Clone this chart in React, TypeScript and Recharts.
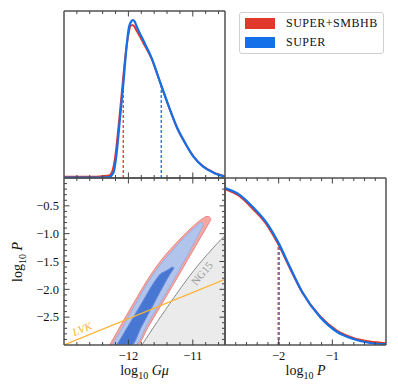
import React from 'react';
import { ComposedChart, Line, Area, XAxis, YAxis, ReferenceLine, ReferenceDot } from 'recharts';

// ---------- data ----------
// Top-left: 1D marginal of log10 Gmu
const gmuBlueX = [-13.0, -12.5, -12.3, -12.234, -12.18, -12.13, -12.08, -12.026, -11.99, -11.95, -11.93, -11.9, -11.87, -11.77, -11.64, -11.51, -11.38, -11.25, -11.12, -10.99, -10.84, -10.68, -10.5];
const gmuBlueY = [0.003, 0.003, 0.006, 0.03, 0.157, 0.36, 0.557, 0.796, 0.906, 0.94, 0.946, 0.935, 0.906, 0.826, 0.719, 0.577, 0.437, 0.307, 0.21, 0.128, 0.068, 0.032, 0.008];
const gmuRedX = [-13.0, -12.5, -12.3, -12.25, -12.2, -12.15, -12.1, -12.05, -12.0, -11.96, -11.93, -11.87, -11.77, -11.64, -11.51, -11.38, -11.25, -11.12, -10.99, -10.84, -10.68, -10.5];
const gmuRedY = [0.008, 0.008, 0.015, 0.04, 0.14, 0.32, 0.52, 0.72, 0.86, 0.915, 0.915, 0.88, 0.81, 0.715, 0.575, 0.435, 0.305, 0.21, 0.13, 0.07, 0.034, 0.01];
const gmuRedMark = [-12.08, 0.58];
const gmuBlueMark = [-11.49, 0.555];

// Bottom-right: 1D marginal of log10 P
const pBlueX = [-3.0, -2.72, -2.48, -2.22, -2.0, -1.79, -1.55, -1.23, -0.91, -0.61, -0.3, 0.0];
const pBlueY = [0.94, 0.898, 0.826, 0.73, 0.61, 0.467, 0.311, 0.168, 0.078, 0.036, 0.012, 0.005];
const pRedX = [-3.0, -2.72, -2.48, -2.22, -2.0, -1.79, -1.55, -1.23, -0.91, -0.61, -0.3, 0.0];
const pRedY = [0.933, 0.89, 0.815, 0.72, 0.6, 0.46, 0.31, 0.172, 0.085, 0.042, 0.02, 0.01];
const pRedMark = [-2.01, 0.6];
const pBlueMark = [-1.99, 0.6];

// Bottom-left: 2D contours (x = log10 Gmu, [lo, hi] = log10 P band)
const red2X = [-12.29, -12.1, -11.9, -11.862, -11.7, -11.5, -11.3, -11.1, -10.95, -10.85, -10.78, -10.74, -10.72];
const red2Lo = [-3.0, -3.0, -3.0, -3.0, -2.69, -2.3, -1.91, -1.51, -1.21, -1.01, -0.87, -0.79, -0.745];
const red2Hi = [-3.0, -2.61, -2.21, -2.135, -1.82, -1.49, -1.22, -0.98, -0.82, -0.73, -0.69, -0.7, -0.73];

const blue2X = [-12.25, -12.1, -11.897, -11.7, -11.5, -11.3, -11.1, -10.95, -10.9, -10.86, -10.84];
const blue2Lo = [-3.0, -3.0, -3.0, -2.62, -2.23, -1.84, -1.42, -1.1, -0.99, -0.9, -0.83];
const blue2Hi = [-3.0, -2.7, -2.28, -1.88, -1.55, -1.28, -1.03, -0.87, -0.82, -0.8, -0.82];

const blue1X = [-12.18, -12.0, -11.949, -11.8, -11.6, -11.5, -11.42, -11.36, -11.32, -11.29];
const blue1Lo = [-3.0, -3.0, -3.0, -2.68, -2.25, -2.03, -1.86, -1.74, -1.67, -1.615];
const blue1Hi = [-3.0, -2.65, -2.55, -2.26, -1.87, -1.72, -1.67, -1.63, -1.6, -1.61];

const ng15X = [-11.79, -11.55, -11.3, -11.05, -10.78, -10.5];
const ng15Y = [-3.0, -2.58, -2.16, -1.76, -1.38, -1.03];
const lvkX = [-13.0, -10.5];
const lvkY = [-3.0, -1.82];
const ng15LabelPos = [-10.86, -1.71];
const lvkLabelPos = [-12.72, -2.71];

// ticks
const gmuDomain = [-13, -10.5];
const pDomain = [-3, 0];
const unitDomain = [0, 1];
const gmuMajor = [-12, -11];
const gmuTicks = [-12.8, -12.6, -12.4, -12.2, -12, -11.8, -11.6, -11.4, -11.2, -11, -10.8, -10.6];
const pMajorY = [-2.5, -2, -1.5, -1, -0.5];
const pTicksY = [-2.9, -2.8, -2.7, -2.6, -2.5, -2.4, -2.3, -2.2, -2.1, -2, -1.9, -1.8, -1.7, -1.6, -1.5, -1.4, -1.3, -1.2, -1.1, -1, -0.9, -0.8, -0.7, -0.6, -0.5, -0.4, -0.3, -0.2, -0.1];
const pMajorX = [-2, -1];
const pTicksX = [-2.8, -2.6, -2.4, -2.2, -2, -1.8, -1.6, -1.4, -1.2, -1, -0.8, -0.6, -0.4, -0.2];
const hiddenTicks = [0.5];

const seriesNames = ['SUPER+SMBHB', 'SUPER'];

// ---------- style ----------
const RED = '#E0392B';
const BLUE = '#1370E8';
const FRAME = '#505050';
const TICK = '#404040';
const FONT = "'Liberation Serif', 'DejaVu Serif', serif";
const ORANGE = '#FDB334';

const zip = (xs: number[], ys: number[]) => xs.map((x, i) => ({ x, y: ys[i] }));
const zipRange = (xs: number[], lo: number[], hi: number[]) => xs.map((x, i) => ({ x, r: [lo[i], hi[i]] }));

const fmtInt = (v: number) => (v < 0 ? '\u2212' + Math.abs(v) : String(v));
const fmtDec = (v: number) => (v < 0 ? '\u2212' + Math.abs(v).toFixed(1) : v.toFixed(1));

const noTick = () => <g />;

function makeTick(side: string, majors: number[], withLabels: boolean, fmt?: (v: number) => string) {
  return (props: any) => {
    const { x, y, payload } = props;
    const v = Number(payload.value);
    const major = majors.some((m) => Math.abs(m - v) < 1e-6);
    const len = major ? 5.5 : 3;
    let x2 = x;
    let y2 = y;
    if (side === 'bottom') y2 = y - len;
    else if (side === 'top') y2 = y + len;
    else if (side === 'left') x2 = x + len;
    else x2 = x - len;
    let label: React.ReactNode = null;
    if (withLabels && major && fmt) {
      if (side === 'bottom') {
        label = (
          <text x={x} y={y + 15} textAnchor="middle" fontSize={12.5} fontFamily={FONT} fill="#111">
            {fmt(v)}
          </text>
        );
      } else {
        label = (
          <text x={x - 5} y={y + 4.3} textAnchor="end" fontSize={12.5} fontFamily={FONT} fill="#111">
            {fmt(v)}
          </text>
        );
      }
    }
    return (
      <g>
        <line x1={x} y1={y} x2={x2} y2={y2} stroke={TICK} strokeWidth={1} />
        {label}
      </g>
    );
  };
}

const frame = { stroke: FRAME, strokeWidth: 1.5 };
const W = 398;
const H = 389;

const abs: React.CSSProperties = { position: 'absolute', left: 0, top: 0 };

function axisSet(p: {
  xDomain: number[];
  yDomain: number[];
  xTicks: number[];
  xMajor: number[];
  xLabels: boolean;
  xFmt?: (v: number) => string;
  yTicks: number[];
  yMajor: number[];
  yLabels: boolean;
  yFmt?: (v: number) => string;
}) {
  const hasX = p.xTicks.length > 0;
  const hasY = p.yTicks.length > 0;
  const common = { type: 'number' as const, allowDataOverflow: true, interval: 0, tickSize: 0, tickMargin: 0, tickLine: false, axisLine: frame };
  return [
    <XAxis
      key="xb"
      xAxisId="b"
      dataKey="x"
      {...common}
      domain={p.xDomain}
      ticks={hasX ? p.xTicks : hiddenTicks}
      height={1}
      tick={hasX ? makeTick('bottom', p.xMajor, p.xLabels, p.xFmt) : noTick}
    />,
    <XAxis
      key="xt"
      xAxisId="t"
      orientation="top"
      dataKey="x"
      {...common}
      domain={p.xDomain}
      ticks={hasX ? p.xTicks : hiddenTicks}
      height={1}
      tick={hasX ? makeTick('top', p.xMajor, false) : noTick}
    />,
    <YAxis
      key="yl"
      yAxisId="l"
      {...common}
      domain={p.yDomain}
      ticks={hasY ? p.yTicks : hiddenTicks}
      width={1}
      tick={hasY ? makeTick('left', p.yMajor, p.yLabels, p.yFmt) : noTick}
    />,
    <YAxis
      key="yr"
      yAxisId="r"
      orientation="right"
      {...common}
      domain={p.yDomain}
      ticks={hasY ? p.yTicks : hiddenTicks}
      width={1}
      tick={hasY ? makeTick('right', p.yMajor, false) : noTick}
    />,
  ];
}

const ax = { xAxisId: 'b', yAxisId: 'l' } as const;

// plot rectangles: margins reduced by 1 for the 1px axis boxes
function TopLeft() {
  return (
    <div style={abs}>
      <ComposedChart width={W} height={H} margin={{ top: 10, left: 63, right: 172, bottom: 210 }}>
        {axisSet({
          xDomain: gmuDomain,
          yDomain: unitDomain,
          xTicks: gmuTicks,
          xMajor: gmuMajor,
          xLabels: false,
          yTicks: [],
          yMajor: [],
          yLabels: false,
        })}
        <ReferenceLine
          {...ax}
          segment={[{ x: gmuRedMark[0], y: 0 }, { x: gmuRedMark[0], y: gmuRedMark[1] }]}
          stroke={RED}
          strokeWidth={1.3}
          strokeDasharray="3 2"
        />
        <ReferenceLine
          {...ax}
          segment={[{ x: gmuBlueMark[0], y: 0 }, { x: gmuBlueMark[0], y: gmuBlueMark[1] }]}
          stroke={BLUE}
          strokeWidth={1.3}
          strokeDasharray="3 2"
        />
        <Line {...ax} data={zip(gmuRedX, gmuRedY)} dataKey="y" name={seriesNames[0]} type="monotone" stroke={RED} strokeWidth={2} dot={false} isAnimationActive={false} />
        <Line {...ax} data={zip(gmuBlueX, gmuBlueY)} dataKey="y" name={seriesNames[1]} type="monotone" stroke={BLUE} strokeWidth={2.2} dot={false} isAnimationActive={false} />
      </ComposedChart>
    </div>
  );
}

function BottomRight() {
  return (
    <div style={abs}>
      <ComposedChart width={W} height={H} margin={{ top: 177, left: 224, right: 11, bottom: 43 }}>
        {axisSet({
          xDomain: pDomain,
          yDomain: unitDomain,
          xTicks: pTicksX,
          xMajor: pMajorX,
          xLabels: true,
          xFmt: fmtInt,
          yTicks: [],
          yMajor: [],
          yLabels: false,
        })}
        <ReferenceLine
          {...ax}
          segment={[{ x: pRedMark[0], y: 0 }, { x: pRedMark[0], y: pRedMark[1] }]}
          stroke={RED}
          strokeWidth={1.2}
          strokeDasharray="3 2"
        />
        <ReferenceLine
          {...ax}
          segment={[{ x: pBlueMark[0], y: 0 }, { x: pBlueMark[0], y: pBlueMark[1] }]}
          stroke={BLUE}
          strokeWidth={1.2}
          strokeDasharray="3 2"
        />
        <Line {...ax} data={zip(pRedX, pRedY)} dataKey="y" type="monotone" stroke={RED} strokeWidth={2.2} dot={false} isAnimationActive={false} />
        <Line {...ax} data={zip(pBlueX, pBlueY)} dataKey="y" type="monotone" stroke={BLUE} strokeWidth={2.2} dot={false} isAnimationActive={false} />
      </ComposedChart>
    </div>
  );
}

function BottomLeft() {
  return (
    <div style={abs}>
      <ComposedChart width={W} height={H} margin={{ top: 177, left: 63, right: 172, bottom: 43 }}>
        {axisSet({
          xDomain: gmuDomain,
          yDomain: pDomain,
          xTicks: gmuTicks,
          xMajor: gmuMajor,
          xLabels: true,
          xFmt: fmtInt,
          yTicks: pTicksY,
          yMajor: pMajorY,
          yLabels: true,
          yFmt: fmtDec,
        })}
        <Area {...ax} data={zip(ng15X, ng15Y)} dataKey="y" baseValue={-3} type="monotone" fill="#EBEBEB" fillOpacity={1} stroke="#8A8A8A" strokeWidth={1} dot={false} activeDot={false} isAnimationActive={false} />
        <Area {...ax} data={zipRange(red2X, red2Lo, red2Hi)} dataKey="r" type="monotone" fill="#F4A7A3" fillOpacity={1} stroke="#EA8782" strokeWidth={1} dot={false} activeDot={false} isAnimationActive={false} />
        <Area {...ax} data={zipRange(blue2X, blue2Lo, blue2Hi)} dataKey="r" type="monotone" fill="#B1C5EC" fillOpacity={1} stroke="#97AFE6" strokeWidth={1} dot={false} activeDot={false} isAnimationActive={false} />
        <Area {...ax} data={zipRange(blue1X, blue1Lo, blue1Hi)} dataKey="r" type="monotone" fill="#4777D2" fillOpacity={1} stroke="#6F8DDC" strokeWidth={1} dot={false} activeDot={false} isAnimationActive={false} />
        <Line {...ax} data={zip(lvkX, lvkY)} dataKey="y" type="linear" stroke={ORANGE} strokeWidth={1.2} dot={false} activeDot={false} isAnimationActive={false} />
        <ReferenceDot
          {...ax}
          x={ng15LabelPos[0]}
          y={ng15LabelPos[1]}
          r={0}
          shape={(p: any) => (
            <text
              x={p.cx}
              y={p.cy}
              transform={`rotate(-50 ${p.cx} ${p.cy})`}
              textAnchor="middle"
              dominantBaseline="central"
              fontSize={11}
              fontFamily={FONT}
              fill="#9A9A9A"
            >
              NG15
            </text>
          )}
        />
        <ReferenceDot
          {...ax}
          x={lvkLabelPos[0]}
          y={lvkLabelPos[1]}
          r={0}
          shape={(p: any) => (
            <text
              x={p.cx}
              y={p.cy}
              transform={`rotate(-22 ${p.cx} ${p.cy})`}
              textAnchor="middle"
              dominantBaseline="central"
              fontSize={11}
              fontStyle="italic"
              fontFamily={FONT}
              fill={ORANGE}
            >
              LVK
            </text>
          )}
        />
      </ComposedChart>
    </div>
  );
}

const labelStyle: React.CSSProperties = {
  position: 'absolute',
  fontFamily: FONT,
  fontSize: 14,
  color: '#111',
  textAlign: 'center',
  whiteSpace: 'nowrap',
  lineHeight: '16px',
  height: 16,
  width: 100,
};

function LogLabel({ v }: { v: string }) {
  return (
    <span>
      log<sub style={{ fontSize: 10, verticalAlign: 'baseline', position: 'relative', top: 3.5 }}>10</sub>{' '}
      <i>{v}</i>
    </span>
  );
}

export default function App() {
  return (
    <div style={{ position: 'absolute', left: 0, top: 0, width: W, height: H, background: '#fff', overflow: 'hidden' }}>
      <BottomLeft />
      <TopLeft />
      <BottomRight />
      <div style={{ ...labelStyle, left: 144.5 - 50, top: 363 }}>
        <LogLabel v={'G\u03BC'} />
      </div>
      <div style={{ ...labelStyle, left: 305.5 - 50, top: 363 }}>
        <LogLabel v="P" />
      </div>
      <div style={{ ...labelStyle, left: 18 - 50, top: 261.5 - 8, transform: 'rotate(-90deg)' }}>
        <LogLabel v="P" />
      </div>
      <div
        style={{
          position: 'absolute',
          left: 239,
          top: 12,
          width: 145,
          height: 42,
          border: '1px solid #D0D0D0',
          borderRadius: 3,
          boxSizing: 'border-box',
          fontFamily: FONT,
          fontSize: 12,
          letterSpacing: 0.5,
          color: '#111',
        }}
      >
        {[RED, BLUE].map((c, i) => (
          <div key={i} style={{ position: 'absolute', left: 5, top: 5 + i * 19, height: 11, display: 'flex', alignItems: 'center' }}>
            <div style={{ width: 30, height: 11, background: c }} />
            <span style={{ marginLeft: 11, lineHeight: '11px' }}>{seriesNames[i]}</span>
          </div>
        ))}
      </div>
    </div>
  );
}
